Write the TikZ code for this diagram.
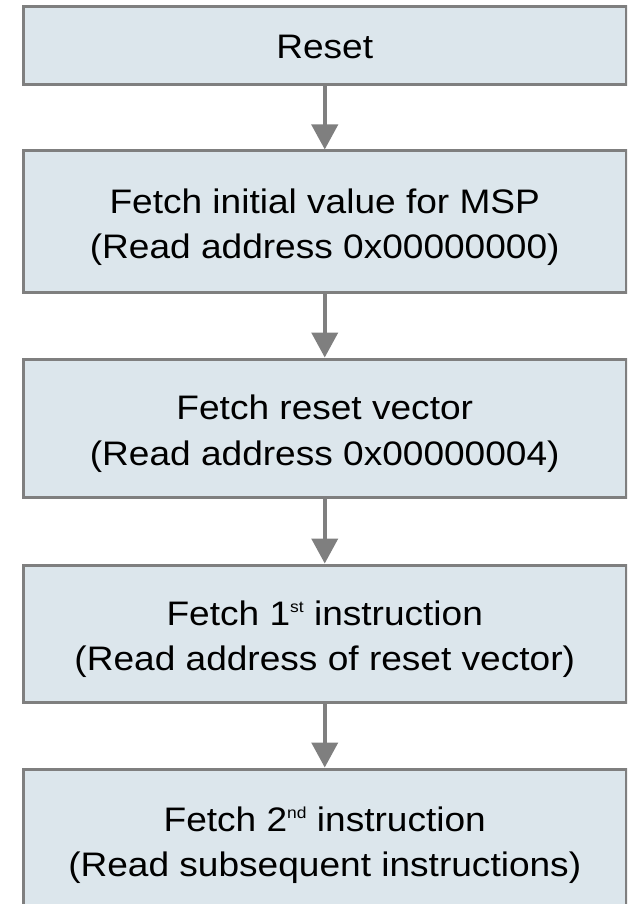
\documentclass[tikz,border=0pt]{standalone}
\usepackage{fontspec}
\setmainfont{Liberation Sans}[FakeStretch=1.09]
\usetikzlibrary{arrows.meta}
\definecolor{boxfill}{HTML}{DCE6EC}
\definecolor{boxline}{HTML}{7F7F7F}
% raised ordinal suffix
\newcommand{\ordsup}[1]{\raisebox{13pt}{\fontsize{16}{16}\selectfont #1}}
% strut that sets the first line's height in two-line boxes
\newcommand{\topline}{\rule{0pt}{36pt}}
\tikzset{
  stagebox/.style={draw=boxline, fill=boxfill, line width=3pt,
    minimum width=602.5pt, align=center, inner sep=0pt,
    font=\fontsize{34}{45.7}\selectfont, text=black},
  flowarrow/.style={draw=boxline, line width=4pt,
    -{Triangle[width=26pt,length=25pt]}}
}
\begin{document}
\begin{tikzpicture}[x=1pt,y=-1pt]
  \useasboundingbox (0,0) rectangle (627,904);
  \clip (0,0) rectangle (627,904);
  \node[stagebox, minimum height=78.5pt] (reset) at (324.75,45.75)
    {\rule{0pt}{26pt}Reset};
  \node[stagebox, minimum height=141pt] (msp) at (324.75,221.5)
    {\topline Fetch initial value for MSP\\(Read address 0x00000000)};
  \node[stagebox, minimum height=138pt] (vec) at (324.75,428)
    {\topline Fetch reset vector\\(Read address 0x00000004)};
  \node[stagebox, minimum height=137pt] (first) at (324.75,633.5)
    {\topline Fetch 1\ordsup{st} instruction\\(Read address of reset vector)};
  \node[stagebox, minimum height=141pt] (second) at (324.75,839.5)
    {\topline Fetch 2\ordsup{nd} instruction\\(Read subsequent instructions)};
  \draw[flowarrow] (reset.south) -- (msp.north);
  \draw[flowarrow] (msp.south) -- (vec.north);
  \draw[flowarrow] (vec.south) -- (first.north);
  \draw[flowarrow] (first.south) -- (second.north);
\end{tikzpicture}
\end{document}
